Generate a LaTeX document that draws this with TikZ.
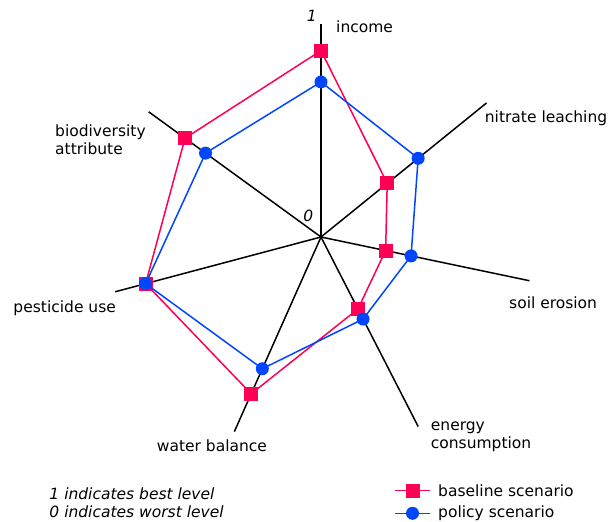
\documentclass[tikz,border=0pt]{standalone}
\usepackage{fontspec}
\setmainfont{DejaVu Sans}
\usepackage{tikz}
\usetikzlibrary{positioning}
\definecolor{basered}{RGB}{255, 0, 85}
\definecolor{policyblue}{RGB}{0, 70, 255}
\tikzset{
	axisline/.style={black, line width=1.5pt},
	base line/.style={draw=basered, line width=1.5pt},
	policy line/.style={draw=policyblue, line width=1.5pt},
	bsq/.style={rectangle, fill=basered, minimum size=14pt, inner sep=0pt},
	pdot/.style={circle, fill=policyblue, minimum size=13pt, inner sep=0pt},
	lbl/.style={inner sep=0pt, font=\fontsize{15.5}{18.4}\selectfont, align=left},
	note/.style={lbl, font=\fontsize{15.5}{18.4}\selectfont\itshape}
}
\newcommand{\axislen}{213}

\begin{document}
\begin{tikzpicture}[x=1pt, y=1pt]
	\useasboundingbox (-321,-285) rectangle (287,237);
	\coordinate (o) at (0,0);
	
	% axes
	\foreach \ang/\nm in {90/inc, 39/nit, -11.85/soil, -62.85/ener, -114/wat, -165.1/pest, 144/bio}
		\draw[axisline] (o) -- (\ang:\axislen) coordinate (\nm);
	
	% scores, 0 = centre, 1 = end of axis
	\foreach \ang/\nm/\bv/\pv in {90/inc/0.875/0.728, 39/nit/0.40/0.587, -11.85/soil/0.31/0.432, -62.85/ener/0.38/0.433, -114/wat/0.806/0.677, -165.1/pest/0.852/0.852, 144/bio/0.789/0.670}{
		\coordinate (b-\nm) at (\ang:{\bv*\axislen});
		\coordinate (p-\nm) at (\ang:{\pv*\axislen});
	}
	
	\draw[base line] (b-inc) -- (b-nit) -- (b-soil) -- (b-ener) -- (b-wat) -- (b-pest) -- (b-bio) -- cycle;
	\foreach \nm in {inc, nit, soil, ener, wat, pest, bio}
		\node[bsq] (bm-\nm) at (b-\nm) {};
	
	\draw[policy line] (p-inc) -- (p-nit) -- (p-soil) -- (p-ener) -- (p-wat) -- (p-pest) -- (p-bio) -- cycle;
	\foreach \nm in {inc, nit, soil, ener, wat, pest, bio}
		\node[pdot] (pm-\nm) at (p-\nm) {};
	
	% axis labels
	\node[lbl, anchor=base west] (inclbl) at (15,204.7) {income};
	\node[lbl, anchor=base west] (nitlbl) at (163.7,114.3) {nitrate leaching};
	\node[lbl, anchor=base west] (soillbl) at (188,-71.3) {soil erosion};
	\node[lbl, anchor=north west] (enerlbl) at (109.7,-184.5) {energy\\consumption};
	\node[lbl, anchor=base west] (watlbl) at (-164.3,-214) {water balance};
	\node[lbl, anchor=base west] (pestlbl) at (-307.7,-75.7) {pesticide use};
	\node[lbl, anchor=north west] (biolbl) at (-266,112.8) {biodiversity\\attribute};
	
	\node[note, anchor=base] (one) at (-9.3,215.3) {1};
	\node[note, anchor=base] (zero) at (-12.7,16) {0};
	
	% notes
	\node[note, anchor=base west] (best) at (-271.7,-262.3) {1 indicates best level};
	\node[note, anchor=base west] (worst) at (-271.7,-280.5) {0 indicates worst level};
	
	% legend
	\coordinate (lb1) at (74,-253.7);
	\coordinate (lb2) at (109,-253.7);
	\draw[base line] (lb1) -- (lb2) node[bsq, midway] (lbm) {};
	\node[lbl, anchor=west, right=8pt of lb2] (lbt) {baseline scenario};
	\coordinate (lp1) at (74,-276.3);
	\coordinate (lp2) at (109,-276.3);
	\draw[policy line] (lp1) -- (lp2) node[pdot, midway] (lpm) {};
	\node[lbl, anchor=west, right=8pt of lp2] (lpt) {policy scenario};
\end{tikzpicture}
\end{document}
